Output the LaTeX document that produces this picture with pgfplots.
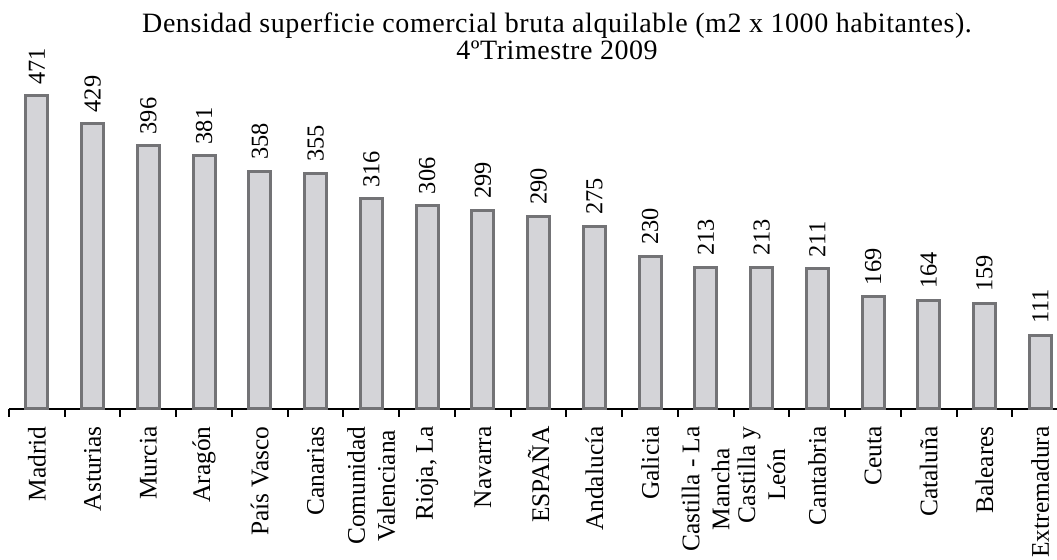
\documentclass[border=0pt]{standalone}
\usepackage{fontspec}
\setmainfont{Liberation Serif}
\usepackage{pgfplots}
\pgfplotsset{compat=1.18}
\definecolor{barfill}{RGB}{212,212,216}
\definecolor{barline}{RGB}{115,115,118}
\begin{document}
\begin{tikzpicture}
\begin{axis}[
  at={(0pt,0pt)}, anchor=south west,
  width=524pt, height=156.5pt, scale only axis,
  xmin=-0.5, xmax=18.3, ymin=0, ymax=471,
  axis x line=bottom, axis y line=none,
  x axis line style={-, line width=1.2pt, black},
  xtick={0,...,18},
  xticklabels={Madrid, Asturias, Murcia, Aragón, País Vasco, Canarias, Comunidad\\Valenciana, {Rioja, La}, Navarra, ESPAÑA, Andalucía, Galicia, Castilla - La\\Mancha, Castilla y\\León, Cantabria, Ceuta, Cataluña, Baleares, Extremadura},
  major tick length=0pt,
  minor xtick={-0.5,0.5,...,17.5},
  minor tick length=4pt,
  tick align=outside,
  tick style={black, line width=1pt},
  xticklabel style={rotate=90, anchor=east, align=center, font=\fontsize{12.7}{15}\selectfont, inner sep=0pt},
  xticklabel shift=8.5pt,
  ytick=\empty,
  ybar, bar width=11pt,
  nodes near coords,
  every node near coord/.append style={rotate=90, anchor=west, font=\fontsize{12.2}{14}\selectfont, inner xsep=5pt, inner ysep=0pt},
  /pgf/number format/assume math mode=true,
  clip=false,
]
\addplot[fill=barfill, draw=barline, line width=1.5pt] coordinates {
(0,471) (1,429) (2,396) (3,381) (4,358) (5,355) (6,316) (7,306) (8,299) (9,290)
(10,275) (11,230) (12,213) (13,213) (14,211) (15,169) (16,164) (17,159) (18,111)};
\end{axis}
\node[anchor=base, font=\fontsize{14}{16}\selectfont\addfontfeatures{LetterSpace=2}] at (274pt,188pt) {Densidad superficie comercial bruta alquilable (m2 x 1000 habitantes).};
\node[anchor=base, font=\fontsize{14}{16}\selectfont\addfontfeatures{LetterSpace=2}] at (274pt,174.5pt) {4ºTrimestre 2009};
\pgfresetboundingbox
\path (-4.5pt,-75.5pt) rectangle (524pt,204.5pt);
\end{tikzpicture}
\end{document}
